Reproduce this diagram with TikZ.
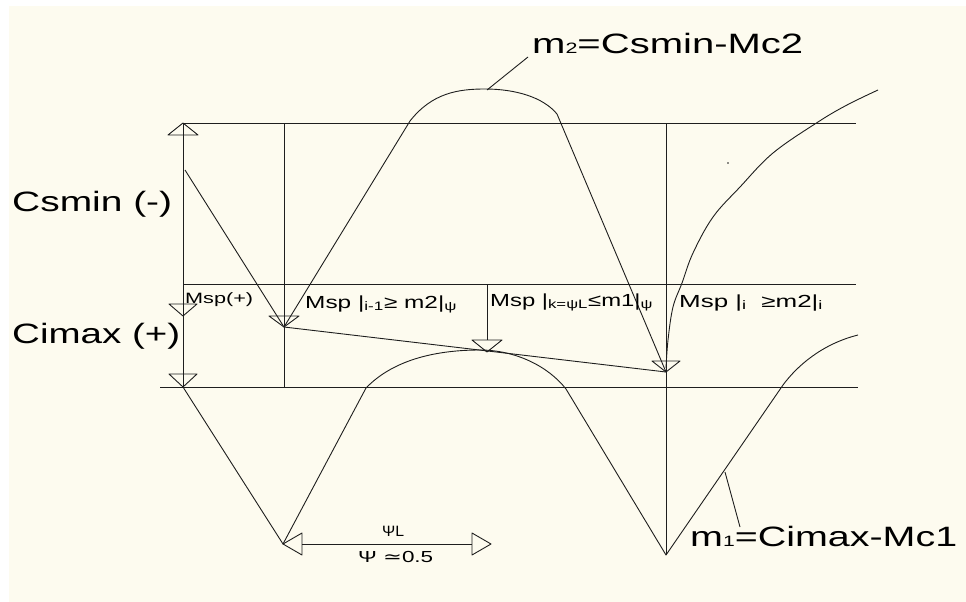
\documentclass[tikz,border=0pt]{standalone}
\usepackage{fontspec}
\usepackage{graphicx}
\setmainfont{Liberation Sans}
\newfontfamily\symfont{DejaVu Sans}
\newcommand\fitto[2]{\resizebox{#1}{\height}{#2}}
\newcommand\bigsub[1]{{\fontsize{15}{15}\selectfont #1}}
\newcommand\tridn[4]{\draw[ln] (#1,#2) -- (#1-#3,#2-#4) -- (#1+#3,#2-#4) -- cycle;}
\newcommand\triup[4]{\draw[ln] (#1,#2) -- (#1-#3,#2+#4) -- (#1+#3,#2+#4) -- cycle;}
\definecolor{cream}{HTML}{FDFBEF}
\definecolor{ink}{HTML}{1E1E1E}
\tikzset{
  ln/.style={draw=ink, line width=0.9pt, line join=round},
  big/.style={inner sep=0pt, anchor=base west, font=\fontsize{28}{30}\selectfont},
  small/.style={inner sep=0pt, anchor=base west, font=\fontsize{17.5}{19}\selectfont},
}
\begin{document}
\begin{tikzpicture}[x=1pt,y=-1pt]
\useasboundingbox (0,0) rectangle (966,602);
\fill[white] (0,0) rectangle (966,602);
\fill[cream] (9,6) rectangle (966,602);

% key points
\coordinate (TL) at (183,123);
\coordinate (TR) at (856,123);
\coordinate (ML) at (183,284);
\coordinate (MR) at (856,284);
\coordinate (BL) at (160,387);
\coordinate (BR) at (858,387);
\coordinate (A) at (284,327);
\coordinate (B) at (487,352);
\coordinate (C) at (666,372);
\coordinate (V1) at (283,544);
\coordinate (V2) at (666,555);

% horizontal lines
\draw[ln] (TL) -- (TR);
\draw[ln] (ML) -- (MR);
\draw[ln] (BL) -- (BR);

% verticals
\draw[ln] (183,123) -- (183,387);
\draw[ln] (284,123) -- (284,387);
\draw[ln] (487,284) -- (487,340);
\draw[ln] (666,123) -- (V2);

% triangles on left vertical
\triup{183}{123}{15}{12}
\tridn{183}{316}{14}{12}
\tridn{183}{387}{14}{13}
% triangles at Msp points
\tridn{284}{327}{15}{11}
\tridn{487}{352}{15}{12}
\tridn{666}{372}{14}{11}

% sloped line joining Msp points
\draw[ln] (A) -- (C);

% upper curve m2
\draw[ln] (185,170) -- (A) -- (410,121)
  .. controls (432,93) and (458,89) .. (485,89)
  .. controls (515,89) and (543,97) .. (557,114) -- (C);

% lower curve m1
\draw[ln] (183,387) -- (V1) -- (366,388)
  .. controls (395,358) and (440,350) .. (480,350)
  .. controls (515,350) and (548,366) .. (566,389) -- (V2) -- (783,385)
  .. controls (797,366) and (822,344) .. (858,335);

% right big curve
\draw[ln] plot[smooth, tension=0.6] coordinates {(666,368) (668,340) (673,307) (682,283) (693,253) (713,217) (740,187) (773,153) (818,122) (847,105) (878,90)};

% stray dot
\fill[ink] (728,163) circle (0.8pt);

% leaders
\draw[ln] (487,90) -- (528,57);
\draw[ln] (725,472) -- (740,527);

% dimension arrow
\draw[ln] (302,544) -- (472,544);
\draw[ln] (V1) -- (302,533) -- (302,555) -- cycle;
\draw[ln] (491,544) -- (472,533) -- (472,555) -- cycle;

% labels
\node[big] (lm2) at (532,53) {\fitto{271pt}{m\bigsub{2}=Csmin-Mc2}};
\node[big] (lm1) at (690,546) {\fitto{267pt}{m\bigsub{1}=Cimax-Mc1}};
\node[big] (lcs) at (12,211) {\fitto{160pt}{Csmin (-)}};
\node[big] (lci) at (12,343) {\fitto{168pt}{Cimax (+)}};
\node[small, font=\fontsize{15}{17}\selectfont] (lmsp) at (185,303) {\fitto{68pt}{Msp(+)}};
\node[small] (l1) at (305,308) {\fitto{152pt}{Msp |\textsubscript{i-1}≥ m2|\textsubscript{ψ}}};
\node[small] (l2) at (490,306) {\fitto{163pt}{Msp |\textsubscript{k=ψL}≤m1|\textsubscript{ψ}}};
\node[small] (l3) at (679,307) {\fitto{144pt}{Msp |\textsubscript{i} \ ≥m2|\textsubscript{i}}};
\node[small, font=\fontsize{15}{17}\selectfont] (lpl) at (382,536) {\fitto{22pt}{ΨL}};
\node[small, font=\fontsize{16}{18}\selectfont] (lps) at (358,562) {\fitto{75pt}{Ψ {\symfont ≃}0.5}};
\end{tikzpicture}
\end{document}
